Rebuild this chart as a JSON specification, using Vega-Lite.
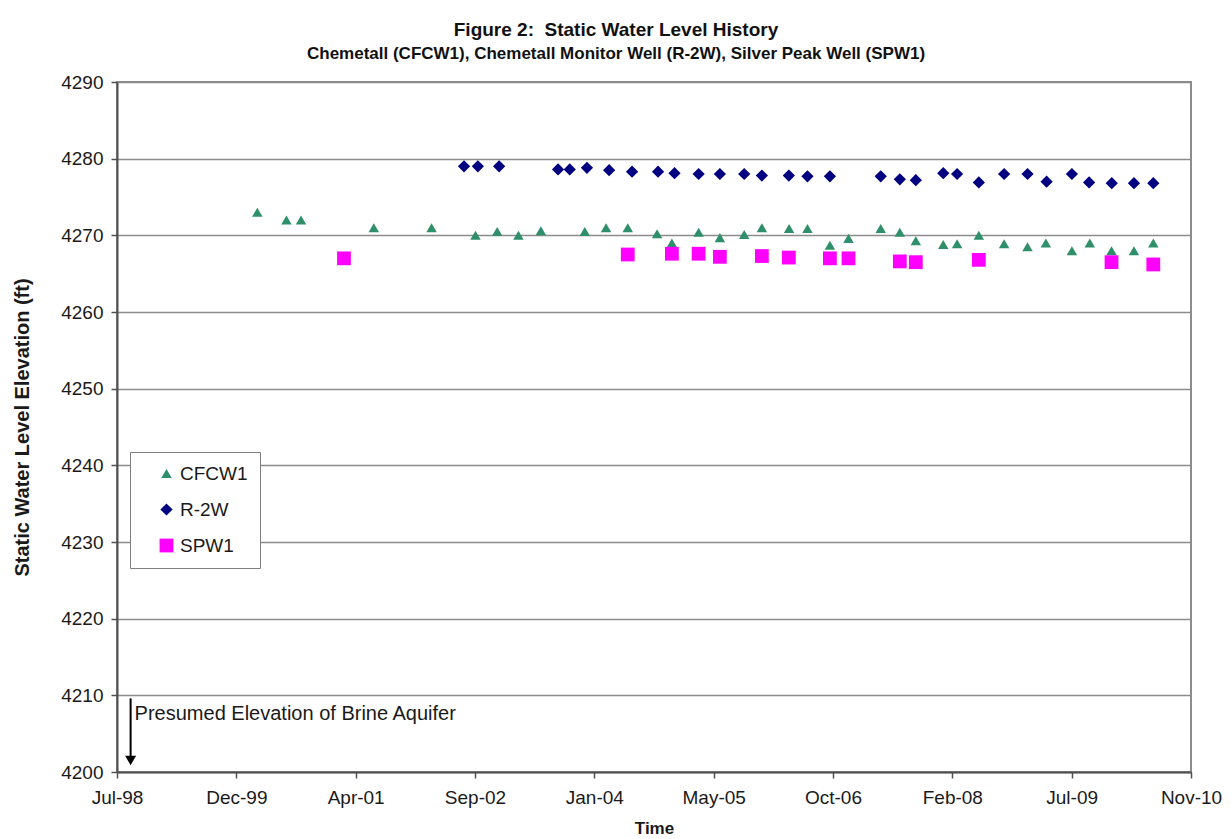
{
  "$schema": "https://vega.github.io/schema/vega-lite/v6.json",
  "autosize": {"type": "none"},
  "width": 1074,
  "height": 690,
  "padding": {"left": 117, "top": 82, "right": 40, "bottom": 67},
  "background": "white",
  "config": {
    "font": "Liberation Sans",
    "view": {"stroke": "#8c8c8c", "strokeWidth": 2},
    "axis": {"labelFont": "Liberation Sans", "titleFont": "Liberation Sans", "labelColor": "#1a1a1a", "titleColor": "#1a1a1a"}
  },
  "title": {
    "text": "Figure 2:\u00a0 Static Water Level History",
    "subtitle": "Chemetall (CFCW1), Chemetall Monitor Well (R-2W), Silver Peak Well (SPW1)",
    "anchor": "middle",
    "frame": "group",
    "dx": -38,
    "font": "Liberation Sans",
    "fontSize": 19,
    "fontWeight": "bold",
    "color": "#111111",
    "subtitleFont": "Liberation Sans",
    "subtitleFontSize": 17,
    "subtitleFontWeight": "bold",
    "subtitleColor": "#111111",
    "subtitlePadding": 6,
    "offset": 11
  },
  "datasets": {
    "wells": [
      {"series": "CFCW1", "date": "2000-03-03", "elevation": 4273.0},
      {"series": "CFCW1", "date": "2000-07-03", "elevation": 4272.0},
      {"series": "CFCW1", "date": "2000-09-02", "elevation": 4272.0},
      {"series": "CFCW1", "date": "2001-07-04", "elevation": 4271.0},
      {"series": "CFCW1", "date": "2002-03-03", "elevation": 4271.0},
      {"series": "CFCW1", "date": "2002-09-03", "elevation": 4270.0},
      {"series": "CFCW1", "date": "2002-12-03", "elevation": 4270.5},
      {"series": "CFCW1", "date": "2003-03-02", "elevation": 4270.0},
      {"series": "CFCW1", "date": "2003-06-04", "elevation": 4270.6},
      {"series": "CFCW1", "date": "2003-12-05", "elevation": 4270.5},
      {"series": "CFCW1", "date": "2004-03-03", "elevation": 4271.0},
      {"series": "CFCW1", "date": "2004-06-02", "elevation": 4271.0},
      {"series": "CFCW1", "date": "2004-10-03", "elevation": 4270.2},
      {"series": "CFCW1", "date": "2004-12-04", "elevation": 4269.0},
      {"series": "CFCW1", "date": "2005-03-26", "elevation": 4270.4},
      {"series": "CFCW1", "date": "2005-06-23", "elevation": 4269.7},
      {"series": "CFCW1", "date": "2005-10-03", "elevation": 4270.1},
      {"series": "CFCW1", "date": "2005-12-16", "elevation": 4271.0},
      {"series": "CFCW1", "date": "2006-04-09", "elevation": 4270.9},
      {"series": "CFCW1", "date": "2006-06-25", "elevation": 4270.9},
      {"series": "CFCW1", "date": "2006-09-27", "elevation": 4268.7},
      {"series": "CFCW1", "date": "2006-12-14", "elevation": 4269.6},
      {"series": "CFCW1", "date": "2007-04-28", "elevation": 4270.9},
      {"series": "CFCW1", "date": "2007-07-17", "elevation": 4270.4},
      {"series": "CFCW1", "date": "2007-09-22", "elevation": 4269.3},
      {"series": "CFCW1", "date": "2008-01-15", "elevation": 4268.8},
      {"series": "CFCW1", "date": "2008-03-13", "elevation": 4268.9},
      {"series": "CFCW1", "date": "2008-06-12", "elevation": 4270.0},
      {"series": "CFCW1", "date": "2008-09-26", "elevation": 4268.9},
      {"series": "CFCW1", "date": "2009-01-02", "elevation": 4268.5},
      {"series": "CFCW1", "date": "2009-03-20", "elevation": 4269.0},
      {"series": "CFCW1", "date": "2009-07-07", "elevation": 4268.0},
      {"series": "CFCW1", "date": "2009-09-20", "elevation": 4269.0},
      {"series": "CFCW1", "date": "2009-12-20", "elevation": 4268.0},
      {"series": "CFCW1", "date": "2010-03-24", "elevation": 4268.0},
      {"series": "CFCW1", "date": "2010-06-13", "elevation": 4269.0},
      {"series": "R-2W", "date": "2002-07-17", "elevation": 4279.0},
      {"series": "R-2W", "date": "2002-09-13", "elevation": 4279.0},
      {"series": "R-2W", "date": "2002-12-11", "elevation": 4279.0},
      {"series": "R-2W", "date": "2003-08-15", "elevation": 4278.6},
      {"series": "R-2W", "date": "2003-10-03", "elevation": 4278.6},
      {"series": "R-2W", "date": "2003-12-14", "elevation": 4278.8},
      {"series": "R-2W", "date": "2004-03-16", "elevation": 4278.5},
      {"series": "R-2W", "date": "2004-06-20", "elevation": 4278.3},
      {"series": "R-2W", "date": "2004-10-07", "elevation": 4278.3},
      {"series": "R-2W", "date": "2004-12-15", "elevation": 4278.1},
      {"series": "R-2W", "date": "2005-03-26", "elevation": 4278.0},
      {"series": "R-2W", "date": "2005-06-23", "elevation": 4278.0},
      {"series": "R-2W", "date": "2005-10-03", "elevation": 4278.0},
      {"series": "R-2W", "date": "2005-12-16", "elevation": 4277.8},
      {"series": "R-2W", "date": "2006-04-08", "elevation": 4277.8},
      {"series": "R-2W", "date": "2006-06-25", "elevation": 4277.7},
      {"series": "R-2W", "date": "2006-09-27", "elevation": 4277.7},
      {"series": "R-2W", "date": "2007-04-28", "elevation": 4277.7},
      {"series": "R-2W", "date": "2007-07-17", "elevation": 4277.3},
      {"series": "R-2W", "date": "2007-09-22", "elevation": 4277.2},
      {"series": "R-2W", "date": "2008-01-15", "elevation": 4278.1},
      {"series": "R-2W", "date": "2008-03-13", "elevation": 4278.0},
      {"series": "R-2W", "date": "2008-06-12", "elevation": 4276.9},
      {"series": "R-2W", "date": "2008-09-26", "elevation": 4278.0},
      {"series": "R-2W", "date": "2009-01-02", "elevation": 4278.0},
      {"series": "R-2W", "date": "2009-03-23", "elevation": 4277.0},
      {"series": "R-2W", "date": "2009-07-07", "elevation": 4278.0},
      {"series": "R-2W", "date": "2009-09-17", "elevation": 4276.9},
      {"series": "R-2W", "date": "2009-12-21", "elevation": 4276.8},
      {"series": "R-2W", "date": "2010-03-24", "elevation": 4276.8},
      {"series": "R-2W", "date": "2010-06-13", "elevation": 4276.8},
      {"series": "SPW1", "date": "2001-03-01", "elevation": 4267.0},
      {"series": "SPW1", "date": "2004-06-02", "elevation": 4267.5},
      {"series": "SPW1", "date": "2004-12-04", "elevation": 4267.6},
      {"series": "SPW1", "date": "2005-03-26", "elevation": 4267.6},
      {"series": "SPW1", "date": "2005-06-23", "elevation": 4267.2},
      {"series": "SPW1", "date": "2005-12-16", "elevation": 4267.3},
      {"series": "SPW1", "date": "2006-04-08", "elevation": 4267.1},
      {"series": "SPW1", "date": "2006-09-27", "elevation": 4267.0},
      {"series": "SPW1", "date": "2006-12-14", "elevation": 4267.0},
      {"series": "SPW1", "date": "2007-07-17", "elevation": 4266.6},
      {"series": "SPW1", "date": "2007-09-22", "elevation": 4266.5},
      {"series": "SPW1", "date": "2008-06-12", "elevation": 4266.8},
      {"series": "SPW1", "date": "2009-12-20", "elevation": 4266.5},
      {"series": "SPW1", "date": "2010-06-13", "elevation": 4266.2}
    ],
    "note": [
      {"date": "1998-09-19", "top": 4209.6, "bottom": 4202.0, "tip": 4201.5, "label": "Presumed Elevation of Brine Aquifer", "labelY": 4207.6}
    ]
  },
  "layer": [
    {
      "data": {"name": "wells"},
      "mark": {"type": "point", "filled": true, "opacity": 1, "strokeWidth": 0},
      "encoding": {
        "x": {
          "field": "date", "type": "temporal",
          "scale": {"type": "utc", "domain": [{"year": 1998, "month": 7, "date": 24, "utc": true}, {"year": 2010, "month": 11, "date": 18, "utc": true}]},
          "axis": {
            "values": [
              {"year": 1998, "month": 7, "date": 24, "utc": true},
              {"year": 1999, "month": 12, "date": 6, "utc": true},
              {"year": 2001, "month": 4, "date": 19, "utc": true},
              {"year": 2002, "month": 9, "date": 1, "utc": true},
              {"year": 2004, "month": 1, "date": 14, "utc": true},
              {"year": 2005, "month": 5, "date": 28, "utc": true},
              {"year": 2006, "month": 10, "date": 10, "utc": true},
              {"year": 2008, "month": 2, "date": 22, "utc": true},
              {"year": 2009, "month": 7, "date": 6, "utc": true},
              {"year": 2010, "month": 11, "date": 18, "utc": true}
            ],
            "format": "%b-%y",
            "title": "Time",
            "titleFontSize": 17,
            "titleFontWeight": "bold",
            "titlePadding": 13,
            "labelFontSize": 19,
            "labelPadding": 10,
            "labelOverlap": false,
            "labelFlush": false,
            "grid": false,
            "domainColor": "#505050",
            "domainWidth": 2,
            "tickColor": "#505050",
            "tickSize": 6,
            "tickWidth": 1.5
          }
        },
        "y": {
          "field": "elevation", "type": "quantitative",
          "scale": {"domain": [4200, 4290], "zero": false, "nice": false},
          "axis": {
            "values": [4200, 4210, 4220, 4230, 4240, 4250, 4260, 4270, 4280, 4290],
            "format": "d",
            "title": "Static Water Level Elevation (ft)",
            "titleFontSize": 20,
            "titleFontWeight": "bold",
            "titlePadding": 28,
            "labelFontSize": 19,
            "labelPadding": 8,
            "grid": true,
            "gridColor": "#8c8c8c",
            "gridWidth": 1.5,
            "domainColor": "#505050",
            "domainWidth": 2,
            "tickColor": "#505050",
            "tickSize": 6,
            "tickWidth": 1.5
          }
        },
        "color": {
          "field": "series", "type": "nominal",
          "scale": {"domain": ["CFCW1", "R-2W", "SPW1"], "range": ["#2f8f6a", "#000080", "#ff00ff"]},
          "legend": {
            "title": null,
            "orient": "none",
            "legendX": 13,
            "legendY": 370,
            "fillColor": "white",
            "strokeColor": "#7f7f7f",
            "padding": 12,
            "symbolOffset": 15,
            "labelFontSize": 19,
            "labelFont": "Liberation Sans",
            "labelColor": "#1a1a1a",
            "labelOffset": 4,
            "rowPadding": 16,
            "symbolStrokeWidth": 0,
            "symbolOpacity": 1
          }
        },
        "shape": {
          "field": "series", "type": "nominal",
          "scale": {"domain": ["CFCW1", "R-2W", "SPW1"], "range": ["triangle-up", "diamond", "square"]}
        },
        "size": {
          "field": "series", "type": "nominal",
          "scale": {"domain": ["CFCW1", "R-2W", "SPW1"], "range": [110, 190, 160]}
        }
      }
    },
    {
      "data": {"name": "note"},
      "mark": {"type": "rule", "color": "black", "strokeWidth": 2},
      "encoding": {
        "x": {"field": "date", "type": "temporal"},
        "y": {"field": "top", "type": "quantitative"},
        "y2": {"field": "bottom"}
      }
    },
    {
      "data": {"name": "note"},
      "mark": {"type": "point", "shape": "triangle-down", "filled": true, "color": "black", "size": 120, "opacity": 1, "strokeWidth": 0},
      "encoding": {
        "x": {"field": "date", "type": "temporal"},
        "y": {"field": "tip", "type": "quantitative"}
      }
    },
    {
      "data": {"name": "note"},
      "mark": {"type": "text", "align": "left", "baseline": "middle", "dx": 4, "fontSize": 20, "font": "Liberation Sans", "color": "#1a1a1a"},
      "encoding": {
        "x": {"field": "date", "type": "temporal"},
        "y": {"field": "labelY", "type": "quantitative"},
        "text": {"field": "label"}
      }
    }
  ]
}
